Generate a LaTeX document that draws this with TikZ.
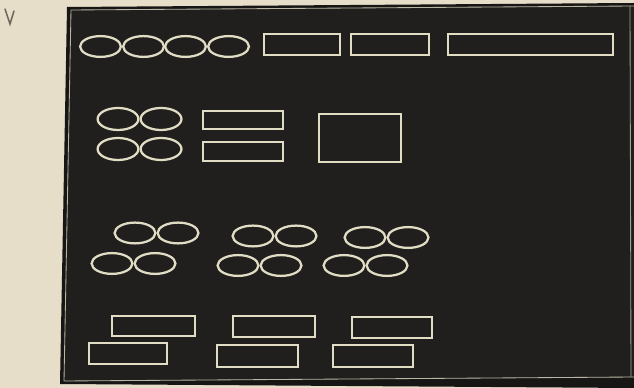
\documentclass[tikz,border=0pt]{standalone}
\usepackage{xcolor}
\usepackage{tikz}
\usetikzlibrary{shapes.geometric, positioning}
\definecolor{paper}{RGB}{230,222,200}
\definecolor{board}{RGB}{33,31,30}
\definecolor{chalk}{RGB}{225,220,196}
\definecolor{pencil}{RGB}{110,102,90}

\begin{document}
\begin{tikzpicture}[
  x=0.25mm, y=-0.25mm,
  oval/.style={ellipse, draw=chalk, line width=1.6pt, inner sep=0pt,
               minimum width=10.2mm, minimum height=5.2mm},
  slot/.style={rectangle, draw=chalk, line width=1.3pt, inner sep=0pt,
               minimum width=20mm, minimum height=5.3mm},
  node distance=0pt
]
  \fill[paper] (0,0) rectangle (634,388);
  \useasboundingbox (0,0) rectangle (634,388);

  % the board
  \fill[board!70!black] (67,7) -- (634,3) -- (634,388) -- (60,384) -- cycle;
  \fill[board] (71,10) -- (634,6) -- (634,377) -- (64,381) -- cycle;
  \draw[chalk!80!board, line width=0.6pt] (71,10) -- (634,6);
  \draw[chalk!80!board, line width=0.6pt] (71,10) -- (64,381) -- (634,377);
  \draw[chalk!70!board, line width=0.6pt] (630,6) -- (631,377);

  % pencil mark
  \draw[pencil, line width=1.1pt, line cap=round] (5,9) -- (10,24) -- (14,11);

  % top row
  \node[oval] (a1) at (100.5,46.5) {};
  \node[oval, right=of a1] (a2) {};
  \node[oval] (a3) at (185.5,46.5) {};
  \node[oval, right=of a3] (a4) {};
  \node[slot, minimum width=19mm] (r1) at (302,44.5) {};
  \node[slot, minimum width=19.5mm] (r2) at (390,44.5) {};
  \node[slot, minimum width=41.2mm] (r3) at (530.5,44.5) {};

  % second row
  \node[oval, minimum height=5.5mm] (b1) at (118,119) {};
  \node[oval, minimum height=5.5mm, right=of b1] (b2) {};
  \node[oval, minimum height=5.5mm] (b3) at (118,149) {};
  \node[oval, minimum height=5.5mm, right=of b3] (b4) {};
  \node[slot, minimum height=4.5mm] (s1) at (243,120) {};
  \node[slot, minimum height=4.7mm] (s2) at (243,151.5) {};
  \node[slot, minimum width=20.5mm, minimum height=12mm] (big) at (360,138) {};

  % pairs of ovals
  \node[oval] (c1) at (135,233) {};
  \node[oval, right=of c1] (c2) {};
  \node[oval] (c3) at (253,236) {};
  \node[oval, right=of c3] (c4) {};
  \node[oval] (c5) at (365,237.5) {};
  \node[oval, right=of c5] (c6) {};
  \node[oval] (d1) at (112,263.5) {};
  \node[oval, right=of d1] (d2) {};
  \node[oval] (d3) at (238,265.5) {};
  \node[oval, right=of d3] (d4) {};
  \node[oval] (d5) at (344,265.5) {};
  \node[oval, right=of d5] (d6) {};

  % bottom row
  \node[slot, minimum width=20.7mm, minimum height=5mm] (t1) at (153.5,326) {};
  \node[slot, minimum width=20.5mm] (t2) at (274,326.5) {};
  \node[slot, minimum height=5.2mm] (t3) at (392,327.5) {};
  \node[slot, minimum width=19.5mm, minimum height=5.2mm] (u1) at (128,353.5) {};
  \node[slot, minimum width=20.2mm, minimum height=5.5mm] (u2) at (257.5,356) {};
  \node[slot, minimum height=5.5mm] (u3) at (373,356) {};
\end{tikzpicture}
\end{document}
